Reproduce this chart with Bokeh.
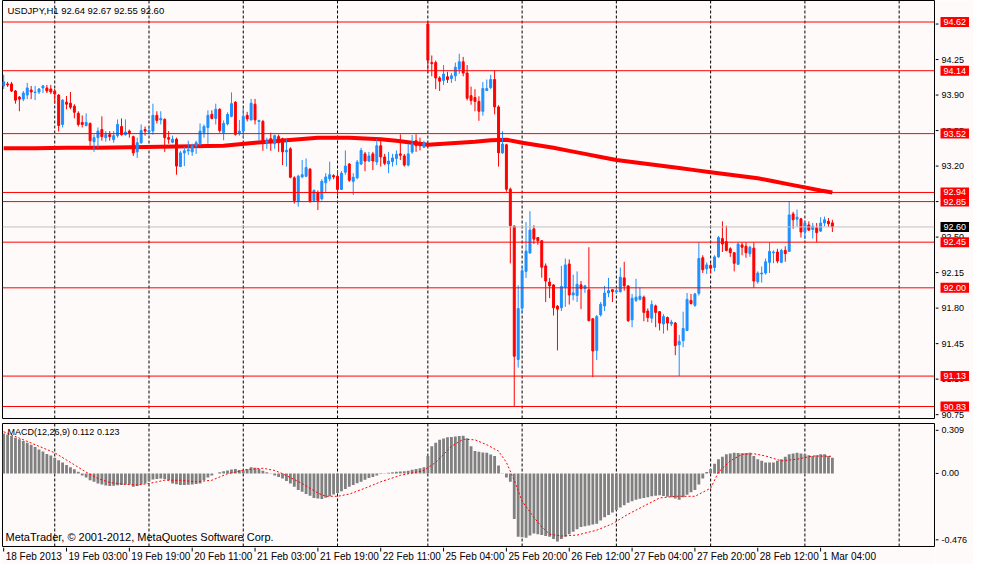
from bokeh.plotting import figure
from bokeh.models import Range1d, Span, Label, ColumnDataSource
from bokeh.layouts import column, row
from bokeh.core.properties import value
from bokeh.embed import file_html
from bokeh.resources import INLINE

BG = "#FFFAFA"
BULL = "#1E90FF"
BEAR = "#FF0000"
FONT = "Liberation Sans"

symbol = "USDJPY,H1"

opens = [93.99, 94.01, 94.01, 93.94, 93.88, 93.86, 93.90, 93.95, 93.925, 93.93,
         93.97, 93.97, 93.96, 93.94, 93.90, 93.61, 93.83, 93.82, 93.79, 93.72,
         93.63, 93.60, 93.62, 93.44, 93.48, 93.56, 93.48, 93.51, 93.46, 93.50,
         93.59, 93.51, 93.545, 93.49, 93.34, 93.43, 93.56, 93.535, 93.545, 93.70,
         93.655, 93.66, 93.48, 93.435, 93.465, 93.195, 93.33, 93.35, 93.34, 93.40,
         93.42, 93.53, 93.58, 93.71, 93.67, 93.76, 93.53, 93.615, 93.69, 93.83,
         93.52, 93.545, 93.70, 93.655, 93.81, 93.64, 93.64, 93.43, 93.47, 93.42,
         93.49, 93.47, 93.34, 93.37, 93.084, 92.85, 93.093, 93.10, 93.17, 92.86,
         92.94, 92.877, 93.036, 93.074, 93.106, 93.10, 92.97, 93.14, 93.22, 93.05,
         93.084, 93.22, 93.32, 93.25, 93.32, 93.24, 93.40, 93.29, 93.22, 93.243,
         93.275, 93.32, 93.30, 93.21, 93.338, 93.45, 93.424, 93.386, 94.60, 94.22,
         94.22, 94.069, 94.044, 94.08, 94.063, 94.09, 94.155, 94.228, 94.117, 93.894,
         93.876, 93.837, 93.74, 93.945, 93.974, 94.053, 93.783, 93.33, 93.41, 92.972,
         92.607, 91.294, 91.80, 92.162, 92.343, 92.581, 92.496, 92.464, 92.216, 92.057,
         92.029, 91.819, 91.803, 92.006, 92.235, 91.93, 91.924, 92.029, 91.994, 91.98,
         91.695, 91.383, 91.733, 91.822, 91.949, 91.981, 91.96, 91.962, 92.098, 92.019,
         91.685, 91.876, 91.886, 91.908, 91.771, 91.701, 91.822, 91.765, 91.644, 91.707,
         91.644, 91.653, 91.44, 91.479, 91.58, 91.876, 91.828, 91.946, 92.296, 92.188,
         92.219, 92.20, 92.305, 92.486, 92.455, 92.385, 92.346, 92.232, 92.423, 92.41,
         92.337, 92.391, 92.06, 92.137, 92.146, 92.251, 92.346, 92.353, 92.251, 92.369,
         92.359, 92.728, 92.677, 92.68, 92.55, 92.62, 92.575, 92.591, 92.559, 92.639,
         92.655, 92.64]

highs = [94.10, 94.03, 94.03, 93.95, 93.89, 93.94, 94.02, 93.99, 93.99, 93.97,
         94.00, 94.00, 94.00, 93.96, 93.91, 93.86, 93.89, 93.93, 93.81, 93.74,
         93.70, 93.72, 93.63, 93.51, 93.58, 93.69, 93.545, 93.545, 93.545, 93.66,
         93.67, 93.66, 93.56, 93.50, 93.48, 93.61, 93.59, 93.58, 93.815, 93.74,
         93.74, 93.67, 93.545, 93.50, 93.48, 93.35, 93.39, 93.45, 93.42, 93.45,
         93.62, 93.61, 93.75, 93.75, 93.815, 93.77, 93.65, 93.73, 93.926, 93.84,
         93.655, 93.77, 93.735, 93.862, 93.862, 93.655, 93.655, 93.48, 93.53, 93.51,
         93.51, 93.48, 93.465, 93.386, 93.10, 93.115, 93.26, 93.275, 93.18, 92.97,
         92.96, 93.07, 93.13, 93.243, 93.12, 93.16, 93.15, 93.354, 93.23, 93.13,
         93.26, 93.38, 93.34, 93.34, 93.34, 93.465, 93.48, 93.32, 93.34, 93.32,
         93.354, 93.513, 93.32, 93.417, 93.506, 93.513, 93.48, 93.45, 94.62, 94.29,
         94.24, 94.085, 94.196, 94.13, 94.117, 94.22, 94.307, 94.276, 94.196, 93.983,
         93.958, 93.888, 94.028, 94.053, 94.10, 94.142, 93.80, 93.545, 93.42, 92.988,
         92.617, 92.025, 92.216, 92.648, 92.756, 92.617, 92.50, 92.47, 92.24, 92.098,
         92.035, 91.83, 92.216, 92.289, 92.28, 92.13, 92.162, 92.067, 92.029, 92.40,
         91.70, 91.733, 91.86, 92.019, 92.098, 91.987, 91.99, 92.20, 92.257, 92.025,
         91.94, 92.089, 92.003, 91.924, 91.797, 91.876, 91.835, 91.771, 91.74, 91.717,
         91.685, 91.663, 91.536, 91.765, 91.949, 91.94, 91.95, 92.448, 92.321, 92.251,
         92.241, 92.321, 92.512, 92.655, 92.613, 92.40, 92.353, 92.448, 92.448, 92.448,
         92.416, 92.448, 92.162, 92.21, 92.289, 92.448, 92.369, 92.385, 92.385, 92.41,
         92.85, 92.75, 92.772, 92.687, 92.655, 92.655, 92.639, 92.639, 92.696, 92.702,
         92.687, 92.67]

lows = [93.96, 93.98, 93.93, 93.815, 93.74, 93.84, 93.86, 93.86, 93.85, 93.91,
        93.92, 93.92, 93.91, 93.815, 93.54, 93.58, 93.76, 93.76, 93.67, 93.59,
        93.58, 93.59, 93.40, 93.34, 93.38, 93.45, 93.44, 93.45, 93.43, 93.48,
        93.50, 93.50, 93.48, 93.30, 93.28, 93.42, 93.50, 93.51, 93.51, 93.62,
        93.61, 93.34, 93.42, 93.425, 93.115, 93.19, 93.20, 93.31, 93.30, 93.32,
        93.40, 93.48, 93.42, 93.66, 93.61, 93.53, 93.455, 93.60, 93.68, 93.50,
        93.50, 93.48, 93.64, 93.65, 93.61, 93.45, 93.35, 93.37, 93.35, 93.37,
        93.34, 93.21, 93.195, 93.08, 92.83, 92.80, 93.08, 93.09, 92.84, 92.85,
        92.766, 92.86, 92.94, 93.05, 93.07, 92.91, 92.965, 93.115, 93.045, 92.915,
        93.07, 93.21, 93.15, 93.24, 93.16, 93.21, 93.195, 93.21, 93.13, 93.195,
        93.21, 93.26, 93.195, 93.195, 93.32, 93.34, 93.354, 93.38, 94.117, 94.085,
        93.958, 93.94, 94.00, 94.02, 94.02, 94.037, 94.11, 94.085, 93.847, 93.805,
        93.74, 93.646, 93.697, 93.94, 93.958, 93.71, 93.195, 93.32, 92.947, 92.24,
        90.83, 91.214, 91.748, 92.098, 92.337, 92.432, 92.425, 92.10, 91.86, 91.898,
        91.727, 91.383, 91.771, 91.812, 91.835, 91.876, 91.86, 91.79, 91.95, 91.67,
        91.12, 91.288, 91.717, 91.771, 91.908, 91.86, 91.94, 91.955, 91.972, 91.663,
        91.612, 91.86, 91.876, 91.67, 91.663, 91.654, 91.612, 91.58, 91.549, 91.58,
        91.622, 91.336, 91.13, 91.415, 91.574, 91.835, 91.812, 91.924, 92.146, 92.137,
        92.146, 92.162, 92.296, 92.353, 92.359, 92.305, 92.162, 92.226, 92.321, 92.296,
        92.305, 92.00, 92.041, 92.051, 92.13, 92.146, 92.242, 92.242, 92.242, 92.257,
        92.353, 92.582, 92.607, 92.496, 92.48, 92.56, 92.486, 92.45, 92.55, 92.607,
        92.601, 92.55]

closes = [94.03, 94.00, 93.94, 93.85, 93.86, 93.92, 93.97, 93.93, 93.93, 93.96,
          93.99, 93.94, 93.93, 93.91, 93.60, 93.85, 93.81, 93.78, 93.73, 93.61,
          93.61, 93.63, 93.45, 93.48, 93.545, 93.49, 93.51, 93.49, 93.50, 93.61,
          93.51, 93.535, 93.52, 93.33, 93.43, 93.55, 93.545, 93.55, 93.70, 93.65,
          93.67, 93.48, 93.465, 93.465, 93.20, 93.33, 93.35, 93.36, 93.40, 93.43,
          93.545, 93.59, 93.70, 93.67, 93.76, 93.55, 93.62, 93.71, 93.815, 93.513,
          93.545, 93.69, 93.665, 93.82, 93.655, 93.65, 93.45, 93.455, 93.43, 93.50,
          93.43, 93.34, 93.355, 93.09, 92.86, 93.10, 93.115, 93.185, 92.85, 92.96,
          92.86, 93.05, 93.093, 93.115, 93.093, 92.97, 93.13, 93.20, 93.06, 93.09,
          93.24, 93.354, 93.25, 93.30, 93.25, 93.40, 93.29, 93.227, 93.25, 93.28,
          93.316, 93.306, 93.21, 93.32, 93.417, 93.40, 93.40, 93.43, 94.244, 94.21,
          94.069, 94.037, 94.107, 94.053, 94.09, 94.174, 94.228, 94.117, 93.869, 93.847,
          93.837, 93.74, 93.964, 93.964, 94.053, 93.783, 93.33, 93.417, 92.972, 92.613,
          91.326, 91.796, 92.168, 92.362, 92.569, 92.48, 92.464, 92.203, 92.067, 92.019,
          91.803, 91.79, 92.013, 92.226, 91.93, 91.95, 92.035, 91.994, 92.019, 91.676,
          91.377, 91.717, 91.838, 91.949, 91.972, 91.962, 91.972, 92.105, 92.019, 91.676,
          91.898, 91.908, 91.917, 91.758, 91.707, 91.835, 91.758, 91.653, 91.717, 91.653,
          91.663, 91.431, 91.472, 91.60, 91.886, 91.845, 91.94, 92.289, 92.178, 92.226,
          92.194, 92.305, 92.496, 92.432, 92.369, 92.346, 92.242, 92.432, 92.40, 92.346,
          92.40, 92.067, 92.146, 92.146, 92.257, 92.359, 92.353, 92.264, 92.369, 92.337,
          92.718, 92.671, 92.696, 92.55, 92.639, 92.569, 92.607, 92.544, 92.639, 92.671,
          92.632, 92.60]

# thick moving average (read at sample bars)
ma_idx = [0, 8, 16, 24, 32, 40, 48, 56, 64, 72, 80, 88, 96, 100, 104, 108, 112, 116,
          120, 124, 128, 132, 136, 140, 144, 148, 152, 156, 160, 164, 168, 172, 176,
          180, 184, 188, 192, 196, 200, 204, 208, 211]
ma_val = [93.376, 93.376, 93.38, 93.38, 93.385, 93.39, 93.395, 93.40, 93.43, 93.455,
          93.48, 93.48, 93.465, 93.45, 93.43, 93.41, 93.42, 93.43, 93.44, 93.455,
          93.46, 93.43, 93.405, 93.38, 93.35, 93.32, 93.29, 93.26, 93.24, 93.22,
          93.20, 93.18, 93.16, 93.14, 93.12, 93.10, 93.08, 93.05, 93.02, 92.99,
          92.96, 92.94]

macd_hist = [0.287, 0.280, 0.268, 0.255, 0.245, 0.232, 0.220, 0.205, 0.190, 0.172,
             0.158, 0.140, 0.128, 0.113, 0.095, 0.078, 0.060, 0.045, 0.030, 0.012,
             -0.014, -0.030, -0.049, -0.060, -0.072, -0.080, -0.086, -0.090, -0.088, -0.085,
             -0.083, -0.080, -0.080, -0.095, -0.090, -0.080, -0.072, -0.058, -0.044, -0.040,
             -0.037, -0.042, -0.049, -0.072, -0.078, -0.083, -0.083, -0.081, -0.079, -0.076,
             -0.072, -0.049, -0.030, -0.014, 0.000, 0.009, 0.015, 0.021, 0.028, 0.032,
             0.025, 0.021, 0.030, 0.044, 0.040, 0.032, 0.020, 0.009, -0.002, -0.014,
             -0.025, -0.037, -0.055, -0.072, -0.095, -0.118, -0.132, -0.148, -0.160, -0.176,
             -0.180, -0.183, -0.175, -0.164, -0.152, -0.141, -0.128, -0.112, -0.095, -0.083,
             -0.070, -0.060, -0.045, -0.032, -0.025, -0.015, -0.005, 0.002, 0.005, 0.009,
             0.012, 0.014, 0.016, 0.020, 0.026, 0.032, 0.038, 0.044, 0.125, 0.194,
             0.220, 0.241, 0.250, 0.259, 0.262, 0.265, 0.269, 0.270, 0.252, 0.194,
             0.160, 0.155, 0.150, 0.148, 0.135, 0.125, 0.056, -0.002, -0.030, -0.060,
             -0.326, -0.454, -0.458, -0.461, -0.445, -0.431, -0.436, -0.442, -0.448, -0.454,
             -0.470, -0.488, -0.470, -0.454, -0.436, -0.419, -0.400, -0.384, -0.378, -0.373,
             -0.367, -0.361, -0.338, -0.315, -0.298, -0.280, -0.262, -0.245, -0.228, -0.211,
             -0.200, -0.188, -0.182, -0.176, -0.170, -0.164, -0.160, -0.157, -0.162, -0.167,
             -0.171, -0.180, -0.188, -0.170, -0.153, -0.135, -0.118, -0.080, -0.037, 0.010,
             0.032, 0.070, 0.102, 0.120, 0.137, 0.143, 0.148, 0.146, 0.144, 0.146,
             0.148, 0.125, 0.102, 0.090, 0.079, 0.079, 0.079, 0.090, 0.102, 0.120,
             0.137, 0.143, 0.148, 0.143, 0.137, 0.131, 0.125, 0.131, 0.137, 0.137,
             0.125, 0.112]

sig_idx = [0, 7, 13, 17, 21, 24, 27, 31, 34, 37, 41, 45, 49, 53, 57, 62, 66, 69, 71, 76,
           80, 82, 85, 88, 92, 96, 101, 105, 107, 110, 114, 117, 120, 123, 126, 128, 130,
           132, 135, 137, 139, 142, 146, 151, 155, 159, 163, 167, 171, 176, 180, 182, 185,
           188, 191, 194, 198, 202, 206, 211]
sig_val = [0.299, 0.218, 0.148, 0.079, 0.009, -0.037, -0.065, -0.079, -0.083, -0.072,
           -0.049, -0.049, -0.060, -0.049, -0.002, 0.028, 0.037, 0.021, -0.002, -0.072,
           -0.141, -0.164, -0.164, -0.148, -0.106, -0.060, -0.014, 0.009, 0.021, 0.079,
           0.194, 0.245, 0.241, 0.206, 0.160, 0.079, -0.049, -0.199, -0.315, -0.384,
           -0.435, -0.449, -0.442, -0.407, -0.361, -0.292, -0.234, -0.176, -0.164, -0.164,
           -0.106, 0.009, 0.090, 0.137, 0.141, 0.125, 0.090, 0.102, 0.125, 0.123]

level_prices = [94.62, 94.14, 93.52, 92.94, 92.85, 92.45, 92.00, 91.13, 90.83]
price_ticks = [90.75, 91.10, 91.45, 91.80, 92.15, 92.50, 92.85, 93.20, 93.55, 93.90, 94.25, 94.60]
macd_ticks = [0.309, 0.0, -0.476]
macd_tick_labels = ["0.309", "0.00", "-0.476"]
time_tick_idx = [0, 16, 32, 48, 64, 80, 96, 112, 128, 144, 160, 176, 192, 208]
time_tick_labels = ["18 Feb 2013", "19 Feb 03:00", "19 Feb 19:00", "20 Feb 11:00",
                    "21 Feb 03:00", "21 Feb 19:00", "22 Feb 11:00", "25 Feb 04:00",
                    "25 Feb 20:00", "26 Feb 12:00", "27 Feb 04:00", "27 Feb 20:00",
                    "28 Feb 12:00", "1 Mar 04:00"]
day_start_idx = [13, 37, 61, 85, 108, 132, 156, 180, 204, 228]

n = len(closes)
assert len(opens) == n and len(highs) == n and len(lows) == n and len(macd_hist) == n
assert len(ma_idx) == len(ma_val) and len(sig_idx) == len(sig_val)
idx = list(range(n))

x_range = Range1d(-0.3, 237.0)
price_range = Range1d(90.712, 94.832)
macd_range = Range1d(-0.524, 0.358)

CHART_W = 935
AXIS_W = 38
MAIN_H = 420
MACD_H = 127
TIME_H = 17
BOX_PAD = dict(left=3, right=3, top=2, bottom=2)


def base_fig(width, height, xr, yr, **borders):
    p = figure(width=width, height=height, x_range=xr, y_range=yr,
               output_backend="svg", toolbar_location=None, tools="",
               x_axis_location=None, y_axis_location=None, **borders)
    p.background_fill_color = BG
    p.border_fill_color = BG
    p.grid.grid_line_color = None
    p.outline_line_color = None
    return p


def right_axis(yr, height, ticks, labels, border_top, border_bottom):
    a = base_fig(AXIS_W, height, Range1d(0, AXIS_W), yr,
                 min_border_left=0, min_border_right=0,
                 min_border_top=border_top, min_border_bottom=border_bottom)
    m = len(ticks)
    a.segment(x0=[0] * m, x1=[3] * m, y0=ticks, y1=ticks, line_color="black", line_width=1)
    a.text(x=[6] * m, y=ticks, text=labels, text_font=value(FONT),
           text_font_size=value("9px"), text_color="black",
           text_align="left", text_baseline="middle")
    return a


# ---------------- main price panel ----------------
p1 = base_fig(CHART_W, MAIN_H, x_range, price_range,
              min_border_left=2, min_border_right=1, min_border_top=0, min_border_bottom=2)
p1.outline_line_color = "black"

for d in day_start_idx:
    p1.add_layout(Span(location=d, dimension="height", line_color="black",
                       line_dash="3 2", line_width=1, level="underlay"))

p1.line(ma_idx, ma_val, line_color=BEAR, line_width=4)

src = ColumnDataSource(dict(
    x=idx, o=opens, h=highs, l=lows, c=closes,
    top=[max(o, c) for o, c in zip(opens, closes)],
    bot=[min(o, c) for o, c in zip(opens, closes)],
    color=[BULL if c >= o else BEAR for o, c in zip(opens, closes)],
))
p1.segment(x0="x", y0="l", x1="x", y1="h", source=src, line_color="color", line_width=1)
p1.vbar(x="x", width=0.5, top="top", bottom="bot", source=src,
        fill_color="color", line_color="color", line_width=1)

for lv in level_prices:
    p1.add_layout(Span(location=lv, dimension="width", line_color="#FF0000", line_width=1))
p1.add_layout(Span(location=closes[-1], dimension="width", line_color="#C0C0C0", line_width=1))

header = f"{symbol}  {opens[-1]:.2f} {highs[-1]:.2f} {lows[-1]:.2f} {closes[-1]:.2f}"
p1.add_layout(Label(x=x_range.start, y=price_range.end, x_offset=5, y_offset=-10, text=header,
                    text_font=FONT, text_font_size="9.5px", text_color="black",
                    text_baseline="middle"))

a1 = right_axis(price_range, MAIN_H, price_ticks, [f"{t:.2f}" for t in price_ticks], 0, 2)
a1.text(x=[5], y=[closes[-1]], text=[f"{closes[-1]:.2f}"], text_font=value(FONT),
        text_font_size=value("9px"), text_color="white", text_align="left",
        text_baseline="middle", background_fill_color="black", padding=BOX_PAD)
a1.text(x=[5] * len(level_prices), y=level_prices, text=[f"{lv:.2f}" for lv in level_prices],
        text_font=value(FONT), text_font_size=value("9px"), text_color="white",
        text_align="left", text_baseline="middle", background_fill_color="#FF0000",
        padding=BOX_PAD)

# ---------------- MACD panel ----------------
p2 = base_fig(CHART_W, MACD_H, x_range, macd_range,
              min_border_left=2, min_border_right=1, min_border_top=3, min_border_bottom=1)
p2.outline_line_color = "black"

for d in day_start_idx:
    p2.add_layout(Span(location=d, dimension="height", line_color="black",
                       line_dash="3 2", line_width=1, level="underlay"))

p2.vbar(x=idx, width=0.72, top=macd_hist, bottom=0, fill_color="#808080", line_color=None)
p2.line(sig_idx, sig_val, line_color="#FF0000", line_width=1, line_dash="2 2")

p2.add_layout(Label(x=x_range.start, y=macd_range.end, x_offset=5, y_offset=-8,
                    text=f"MACD(12,26,9) {macd_hist[-1]:.3f} {sig_val[-1]:.3f}",
                    text_font=FONT, text_font_size="9px", text_color="black",
                    text_baseline="middle"))
p2.add_layout(Label(x=x_range.start, y=macd_range.start, x_offset=3, y_offset=10,
                    text="MetaTrader, © 2001-2012, MetaQuotes Software Corp.",
                    text_font=FONT, text_font_size="11px", text_color="black",
                    text_baseline="middle"))

a2 = right_axis(macd_range, MACD_H, macd_ticks, macd_tick_labels, 3, 1)

# ---------------- time scale ----------------
p3 = base_fig(CHART_W, TIME_H, x_range, Range1d(0, TIME_H),
              min_border_left=2, min_border_right=1, min_border_top=0, min_border_bottom=0)
k = len(time_tick_idx)
p3.segment(x0=time_tick_idx, x1=time_tick_idx, y0=[TIME_H] * k, y1=[TIME_H - 4] * k,
           line_color="black", line_width=1)
p3.text(x=time_tick_idx, y=[TIME_H / 2 - 0.5] * k, text=time_tick_labels, x_offset=2,
        text_font=value(FONT), text_font_size=value("10px"), text_color="black",
        text_align="left", text_baseline="middle")

spacer = base_fig(AXIS_W, TIME_H, Range1d(0, 1), Range1d(0, 1),
                  min_border_left=0, min_border_right=0, min_border_top=0, min_border_bottom=0)

layout = column(row(p1, a1), row(p2, a2), row(p3, spacer))
open("out.html", "w").write(file_html(layout, INLINE))
